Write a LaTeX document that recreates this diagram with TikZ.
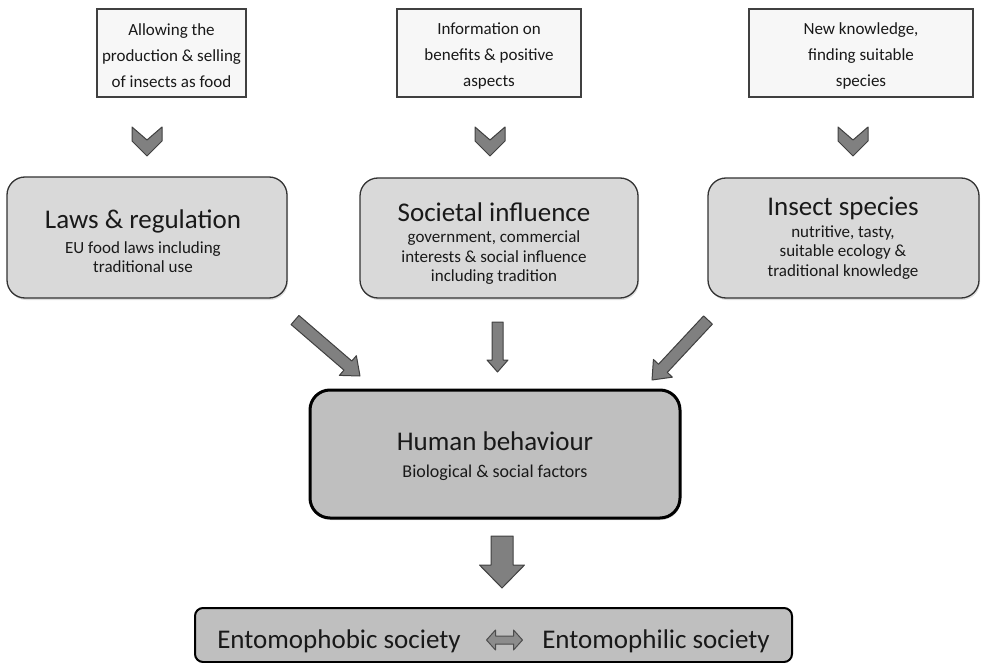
\documentclass[tikz,border=0pt]{standalone}
\usepackage{fontspec}
\setmainfont{Carlito}
\usetikzlibrary{calc,shadows}
\newcommand{\blockarr}[5]{%
  \coordinate (hh) at ($(#2)!#5!(#1)$);
  \draw[arr] ($(#1)!#3!90:(#2)$) -- ($(hh)!#3!90:(#2)$) -- ($(hh)!#4!90:(#2)$) -- (#2)
    -- ($(hh)!#4!-90:(#2)$) -- ($(hh)!#3!-90:(#2)$) -- ($(#1)!#3!-90:(#2)$) -- cycle;}
\newcommand{\chev}[2]{%
  \coordinate (#1) at (#2,127);
  \draw[arr] ($(#1)+(-15,0)$) -- ($(#1)+(0,13)$) -- ($(#1)+(15,0)$) -- ($(#1)+(15,14)$)
    -- ($(#1)+(0,29)$) -- ($(#1)+(-15,14)$) -- cycle;}
\begin{document}
\begin{tikzpicture}[x=1pt,y=-1pt,
  topbox/.style={draw=black!75, line width=1.2pt, fill=black!3, inner sep=0pt},
  midbox/.style={draw=black!80, line width=1.3pt, fill=black!15, rounded corners=18pt,
     drop shadow={opacity=0.25, shadow xshift=1pt, shadow yshift=-2pt}, inner sep=0pt},
  hbbox/.style={draw=black, line width=3pt, fill=black!25, rounded corners=20pt,
     drop shadow={opacity=0.25, shadow xshift=1pt, shadow yshift=-2pt}, inner sep=0pt},
  botbox/.style={draw=black, line width=2pt, fill=black!25, rounded corners=8pt, inner sep=0pt},
  arr/.style={draw=black!75, line width=1pt, fill=black!50, line join=round},
  toptext/.style={align=center, font=\fontsize{17}{26}\selectfont, text=black!90, inner sep=0pt},
  title/.style={align=center, font=\fontsize{27}{30}\selectfont, text=black!90, inner sep=0pt},
  sub/.style={align=center, font=\fontsize{17}{19.5}\selectfont, text=black!90, inner sep=0pt}]
\useasboundingbox (0,0) rectangle (984,663);
% top boxes
\node[topbox, minimum width=149pt, minimum height=88pt] (t1) at (171.5,53) {};
\node[toptext] (t1t) at (171.5,56) {Allowing the\\production \& selling\\of insects as food};
\node[topbox, minimum width=184pt, minimum height=88pt] (t2) at (489,53) {};
\node[toptext] (t2t) at (489,56) {Information on\\benefits \& positive\\aspects};
\node[topbox, minimum width=224pt, minimum height=88pt] (t3) at (861,53) {};
\node[toptext] (t3t) at (861,56) {New knowledge,\\finding suitable\\species};
% chevrons
\chev{c1}{147}
\chev{c2}{490}
\chev{c3}{853}
% middle boxes
\node[midbox, minimum width=280pt, minimum height=121pt] (laws) at (147,237.5) {};
\node[title] (lawst) at (143,221) {Laws \& regulation};
\node[sub] (lawss) at (143,257) {EU food laws including\\traditional use};
\node[midbox, minimum width=278pt, minimum height=120pt] (soc) at (499,238) {};
\node[title] (soct) at (494,212) {Societal influence};
\node[sub] (socs) at (494,258) {government, commercial\\interests \& social influence\\including tradition};
\node[midbox, minimum width=271pt, minimum height=120pt] (ins) at (843.5,238) {};
\node[title] (inst) at (843,208) {Insect species};
\node[sub] (inss) at (843,252.5) {nutritive, tasty,\\suitable ecology \&\\traditional knowledge};
% arrows
\coordinate (a1s) at (295,320); \coordinate (a1e) at (360,376);
\coordinate (a2s) at (497.5,322); \coordinate (a2e) at (497.5,372);
\coordinate (a3s) at (708,320); \coordinate (a3e) at (652,380);
\blockarr{a1s}{a1e}{6pt}{13pt}{16pt}
\blockarr{a2s}{a2e}{5.5pt}{10.5pt}{12pt}
\blockarr{a3s}{a3e}{6pt}{13pt}{16pt}
% human behaviour
\node[hbbox, minimum width=370pt, minimum height=128pt] (hb) at (495,454) {};
\node[title] (hbt) at (495,441) {Human behaviour};
\node[sub, font=\fontsize{18}{20}\selectfont] (hbs) at (495,473) {Biological \& social factors};
% down arrow
\coordinate (ds) at (502,536); \coordinate (de) at (502,588);
\blockarr{ds}{de}{11pt}{22.5pt}{23pt}
% bottom box
\node[botbox, minimum width=597pt, minimum height=54pt] (bot) at (493.5,635) {};
\node[title] (b1) at (339,641) {Entomophobic society};
\node[title] (b2) at (656,641) {Entomophilic society};
\coordinate (dd) at (504.5,640);
\draw[draw=black!70, line width=1pt, fill=black!45, line join=round]
  ($(dd)+(-18,0)$) -- ($(dd)+(-9,-10)$) -- ($(dd)+(-9,-4)$) -- ($(dd)+(9,-4)$) -- ($(dd)+(9,-10)$)
  -- ($(dd)+(18,0)$) -- ($(dd)+(9,10)$) -- ($(dd)+(9,4)$) -- ($(dd)+(-9,4)$) -- ($(dd)+(-9,10)$) -- cycle;
\end{tikzpicture}
\end{document}
